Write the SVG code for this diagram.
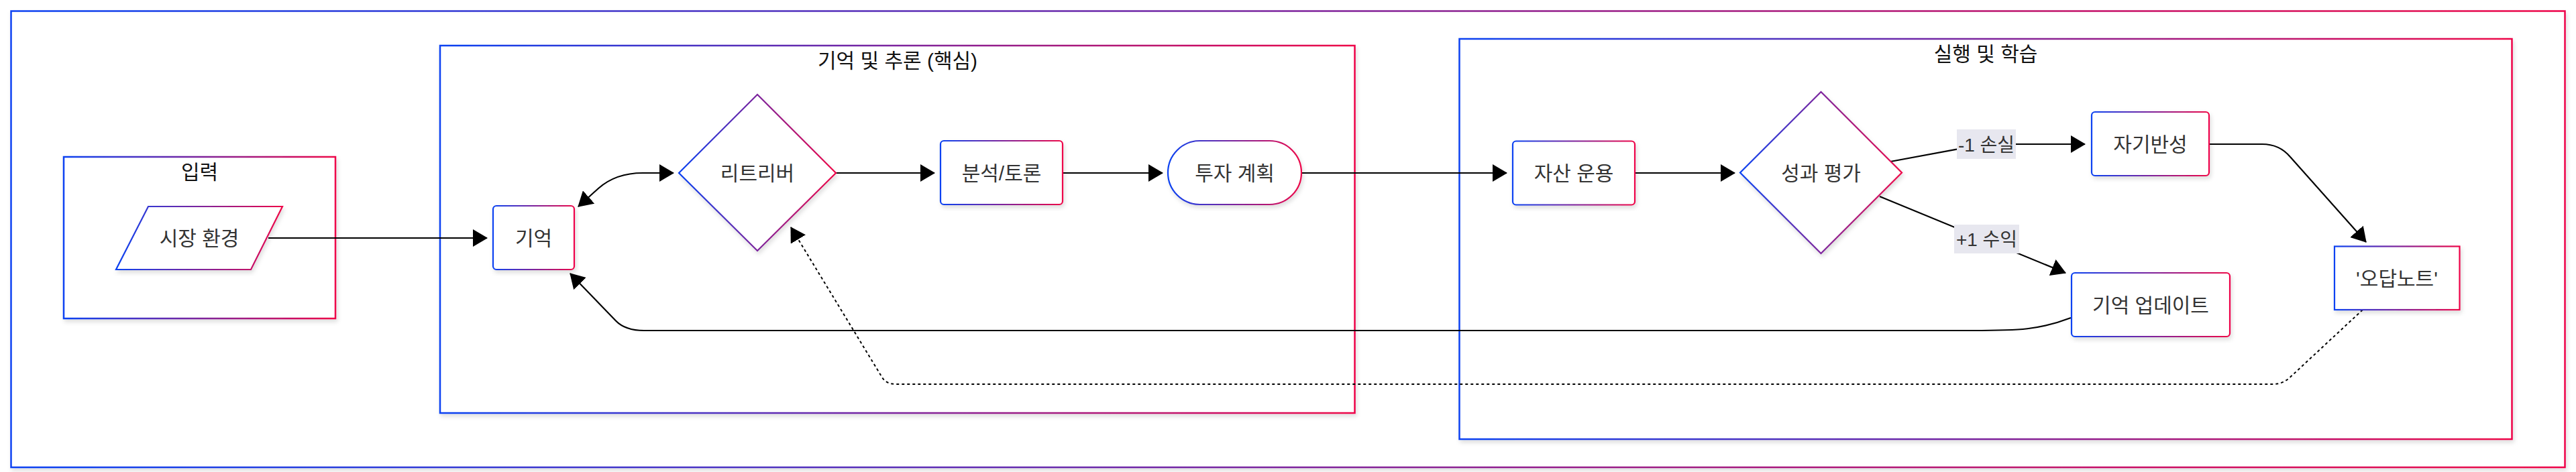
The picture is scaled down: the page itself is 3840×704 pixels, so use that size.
<svg xmlns="http://www.w3.org/2000/svg" width="3840" height="704" viewBox="0 0 3840 704">
<style>
text{font-family:"Liberation Sans","Noto Sans CJK KR",sans-serif;font-size:30px;text-anchor:middle}
.nt{fill:#333}
.lt{fill:#333;font-size:28px}
.tt{fill:#111}
.sg{fill:#fff;stroke:url(#grad);stroke-width:2.5;filter:url(#sh)}
.nd{fill:#fff;stroke:url(#grad);stroke-width:2.2;filter:url(#sh)}
.e{fill:none;stroke:#000;stroke-width:2.2;marker-end:url(#arr)}
.d{stroke-dasharray:4 4;stroke-width:2}
.lb{fill:#e7e7ef}
</style>
<defs>
<linearGradient id="grad" x1="0" y1="0" x2="1" y2="0">
<stop offset="0" stop-color="#0a42f2"/>
<stop offset="1" stop-color="#ee0648"/>
</linearGradient>
<filter id="sh" x="-5%" y="-5%" width="110%" height="115%">
<feDropShadow dx="2" dy="4" stdDeviation="3" flood-color="#000" flood-opacity="0.13"/>
</filter>
<marker id="arr" markerUnits="userSpaceOnUse" markerWidth="22" markerHeight="26" viewBox="0 0 22 26" refX="21" refY="13" orient="auto-start-reverse">
<path d="M0,0 L22,13 L0,26 z" fill="#000"/>
</marker>
</defs>
<rect width="3840" height="704" fill="#fff"/>

<g id="outer">
<rect class="sg" x="16.5" y="16.5" width="3807" height="680.5"/>
</g>
<g id="sg-input">
<rect class="sg" x="95" y="234" width="405" height="241"/>
<text class="tt" x="297.5" y="267">입력</text>
</g>
<g id="sg-core">
<rect class="sg" x="656" y="68" width="1363.5" height="548"/>
<text class="tt" x="1338" y="101">기억 및 추론 (핵심)</text>
</g>
<g id="sg-exec">
<rect class="sg" x="2175.5" y="58" width="1569" height="597"/>
<text class="tt" x="2960" y="91">실행 및 학습</text>
</g>

<g id="edges">
<path class="e" d="M400,355 L726,355"/>
<path class="e" style="marker-start:url(#arr)" d="M862,308 L892,281 Q918,258 958,258 L1004,258"/>
<path class="e" d="M1246,258 L1393,258"/>
<path class="e" d="M1584,258 L1733,258"/>
<path class="e" d="M1940,258 L2246,258"/>
<path class="e" d="M2437,258 L2586,258"/>
<path class="e" d="M2818,241 L2917,222.7 Q2950,215 2990,215 L3108,215"/>
<path class="e" d="M2802,293 L3079,407"/>
<path class="e" d="M3293,215 L3372,215 Q3398,215 3414,234 L3527,361"/>
<path class="e" d="M3087,474 C3040,492 3010,493 2940,493 L960,493 Q932,493 918,478.5 L850,408"/>
<path class="e d" d="M3522,462 L3414,562.5 Q3403,573 3388,573 L1336,573 Q1321,573 1315,563 L1179,339"/>
<rect class="lb" x="2917" y="193" width="88" height="44"/>
<text class="lt" x="2961" y="225.5">-1 손실</text>
<rect class="lb" x="2913" y="335" width="97" height="43"/>
<text class="lt" x="2961.5" y="367">+1 수익</text>
</g>

<g id="n-market">
<polygon class="nd" points="221,308 421,308 374,402 173,402"/>
<text class="nt" x="297" y="366">시장 환경</text>
</g>
<g id="n-memory">
<rect class="nd" x="735" y="307" width="121" height="95" rx="5"/>
<text class="nt" x="795.5" y="365.5">기억</text>
</g>
<g id="n-retriever">
<polygon class="nd" points="1129,141 1246,258 1129,374 1012,258"/>
<text class="nt" x="1129" y="269">리트리버</text>
</g>
<g id="n-analysis">
<rect class="nd" x="1402" y="210" width="182" height="95" rx="5"/>
<text class="nt" x="1493" y="268.5">분석/토론</text>
</g>
<g id="n-plan">
<rect class="nd" x="1741" y="210" width="199" height="95" rx="47.5"/>
<text class="nt" x="1840.5" y="268.5">투자 계획</text>
</g>
<g id="n-asset">
<rect class="nd" x="2255" y="210.5" width="182" height="95" rx="5"/>
<text class="nt" x="2346" y="269">자산 운용</text>
</g>
<g id="n-eval">
<polygon class="nd" points="2714.5,137 2835,257.5 2714.5,378 2594,257.5"/>
<text class="nt" x="2714.5" y="268.5">성과 평가</text>
</g>
<g id="n-reflect">
<rect class="nd" x="3118" y="167" width="175" height="95" rx="5"/>
<text class="nt" x="3205.5" y="225.5">자기반성</text>
</g>
<g id="n-update">
<rect class="nd" x="3088" y="407" width="236" height="95" rx="5"/>
<text class="nt" x="3206" y="465.5">기억 업데이트</text>
</g>
<g id="n-note">
<rect class="nd" x="3480" y="367.5" width="186.5" height="94.5"/>
<text class="nt" x="3573" y="425.8">'오답노트'</text>
</g>
</svg>
